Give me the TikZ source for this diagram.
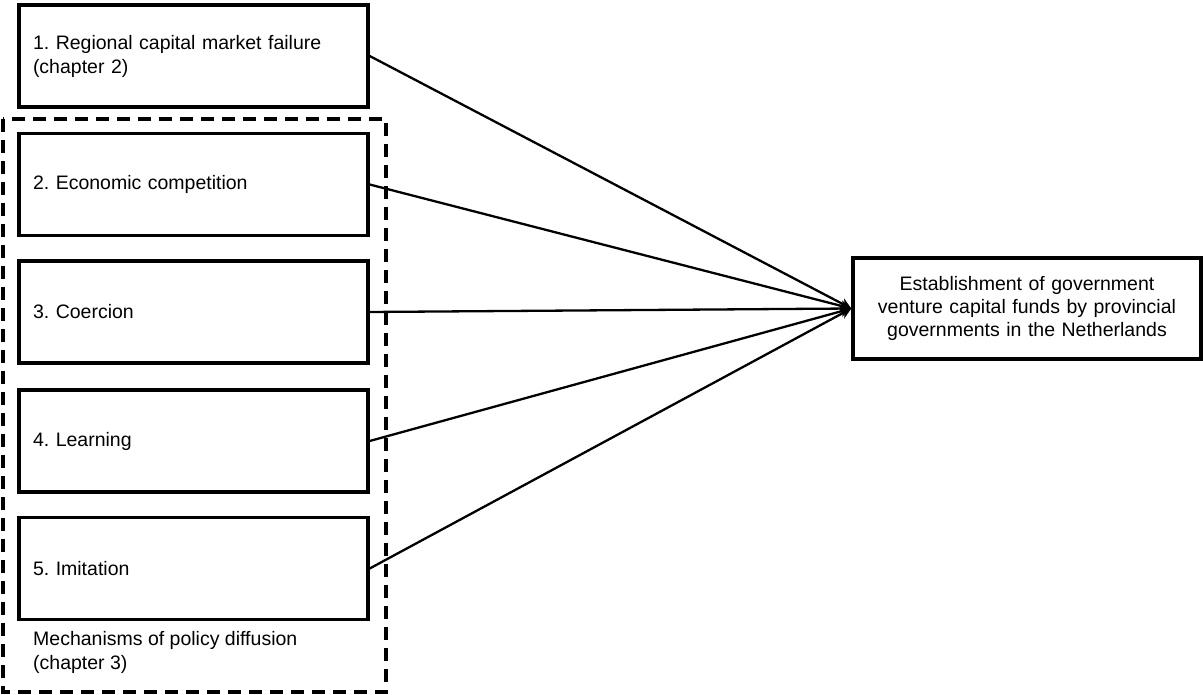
\documentclass[tikz,border=0pt]{standalone}
\usepackage{fontspec}
\setmainfont{Liberation Sans}
\usepackage{xcolor}
\usepackage{tikz}
\usetikzlibrary{arrows.meta}
\frenchspacing

\tikzset{
  factor/.style={draw, line width=3.4pt, rectangle, text width=321pt, inner xsep=14pt,
    minimum height=102pt, align=left, font=\fontsize{19.5}{24}\selectfont},
  outcome/.style={draw, line width=3.4pt, rectangle, text width=320pt, inner xsep=14pt,
    minimum height=101pt, align=center, font=\fontsize{19.5}{23}\selectfont},
  conn/.style={line width=2.3pt, -{Stealth[length=11pt,width=11pt]}},
}

\begin{document}
\begin{tikzpicture}[x=1pt,y=-1pt]
\useasboundingbox (0,0) rectangle (1203,695);
% group of diffusion mechanisms
\draw[line width=3.2pt, dash pattern=on 13pt off 8pt] (3,119) rectangle (386,692);
\node[anchor=north west, align=left, inner sep=0pt, font=\fontsize{19.5}{24}\selectfont] (mechlabel) at (33,631) {Mechanisms of policy diffusion\\(chapter 3)};
% explanatory factors
\node[factor] (market) at (193.5,56) {1. Regional capital market failure\\(chapter 2)};
\node[factor] (competition) at (193.5,184.5) {2. Economic competition};
\node[factor] (coercion) at (193.5,312) {3. Coercion};
\node[factor] (learning) at (193.5,441) {4. Learning};
\node[factor] (imitation) at (193.5,568.5) {5. Imitation};
% outcome
\node[outcome] (funds) at (1027,308.5) {Establishment of government\\venture capital funds by provincial\\governments in the Netherlands};
% connectors
\draw[conn] (market.east) -- (funds.west);
\draw[conn] (competition.east) -- (funds.west);
\draw[conn] (coercion.east) -- (funds.west);
\draw[conn] (learning.east) -- (funds.west);
\draw[conn] (imitation.east) -- (funds.west);
\end{tikzpicture}
\end{document}
